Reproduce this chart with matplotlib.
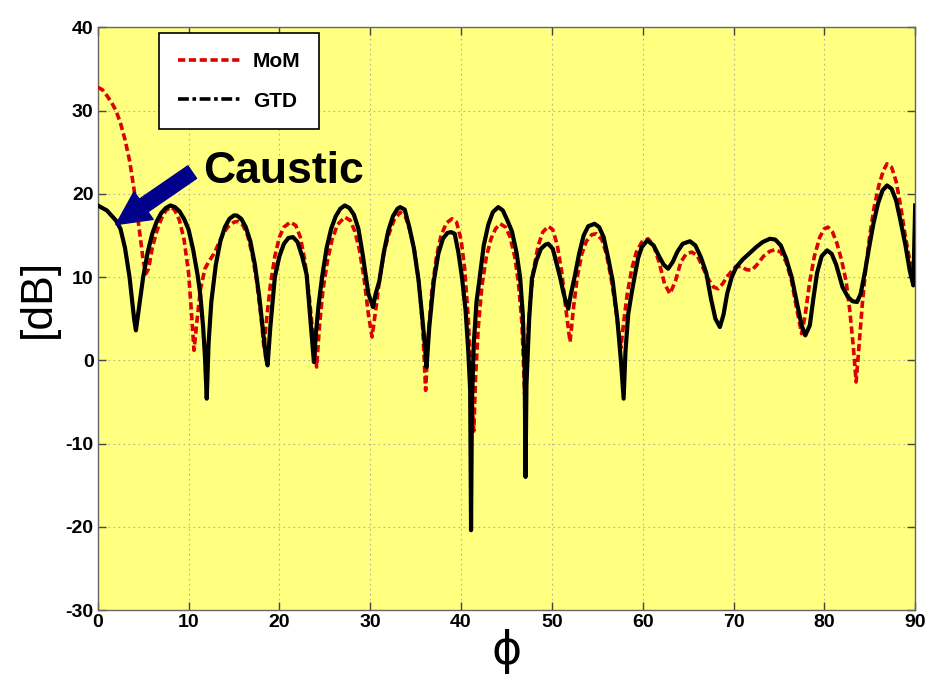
import matplotlib
matplotlib.use("Agg")
import matplotlib.pyplot as plt
from matplotlib.lines import Line2D

plt.rcParams["axes.unicode_minus"] = False

# ---------------- data ----------------
gtd_phi = [0.0, 1.0, 2.0, 2.5, 3.0, 3.5, 3.8, 4.0, 4.2,
           4.5, 5.0, 5.5, 6.0, 6.5, 7.0, 7.5, 8.0, 8.5, 9.0, 9.5, 10.0, 10.5, 11.0, 11.3, 11.6, 11.8, 12.0,
           12.2, 12.5, 13.0, 13.5, 14.0, 14.5, 15.0, 15.3, 15.8, 16.3, 16.8, 17.3, 17.8, 18.2, 18.5, 18.7,
           19.0, 19.5, 20.0, 20.5, 21.0, 21.5, 22.0, 22.5, 23.0, 23.4, 23.8,
           24.0, 24.3, 24.7, 25.2, 25.7, 26.2, 26.7, 27.2, 27.7, 28.2, 28.7, 29.2, 29.5, 29.8, 30.3,
           30.6, 31.0, 31.5, 32.0, 32.5, 33.0, 33.3, 33.8, 34.3, 34.8, 35.3, 35.7, 36.0, 36.2,
           36.5, 37.0, 37.5, 38.0, 38.5, 38.9, 39.3, 39.7, 40.1, 40.5, 40.8, 41.0, 41.1,
           41.2, 41.4, 41.7, 42.0, 42.5, 43.0, 43.5, 44.1, 44.6, 45.1, 45.6, 46.1, 46.5, 46.8, 47.0, 47.1,
           47.2, 47.5, 47.8, 48.3, 48.8, 49.3, 49.6, 50.1, 50.6, 50.9, 51.3, 51.6, 51.8,
           52.1, 52.5, 53.0, 53.5, 54.0, 54.7, 55.2, 55.7, 56.2, 56.7, 57.2, 57.6, 57.9,
           58.1, 58.4, 58.8, 59.1, 59.5, 59.9, 60.5, 61.2, 61.8, 62.3, 62.8, 63.3, 63.8, 64.4, 65.2,
           65.8, 66.4, 67.0, 67.5, 68.0, 68.5,
           68.9, 69.3, 69.8, 70.3, 71.0, 71.8, 72.5, 73.2, 74.0, 74.6, 75.2, 75.8, 76.4, 77.0, 77.5, 77.9,
           78.4, 78.8, 79.2, 79.7, 80.3, 80.8, 81.3, 82.0, 82.6, 83.1, 83.6, 84.0, 84.5, 85.0, 85.4,
           85.9, 86.4, 86.9, 87.4, 87.9, 88.3, 88.9, 89.4, 89.8, 90.0]
gtd_db = [18.6, 18.0, 16.8, 15.8, 13.5, 10.0, 7.0, 5.0, 3.6,
          6.0, 10.0, 13.0, 15.2, 16.7, 17.7, 18.3, 18.6, 18.4, 17.9, 17.0, 15.7, 13.3, 10.2, 7.8, 4.0, 0.5, -4.6,
          2.0, 7.0, 11.5, 14.3, 16.0, 17.0, 17.4, 17.4, 17.0, 16.0, 14.3, 11.5, 7.5, 3.5, 0.5, -0.6,
          4.0, 10.0, 12.5, 14.0, 14.7, 14.8, 14.2, 12.5, 10.3, 5.0, -0.2,
          3.0, 6.5, 10.0, 13.5, 15.8, 17.3, 18.2, 18.6, 18.3, 17.5, 15.8, 12.5, 10.2, 8.0, 6.4,
          8.0, 9.5, 13.0, 15.6, 17.3, 18.2, 18.4, 18.1, 16.0, 13.5, 9.8, 5.5, 2.0, -0.8,
          4.0, 9.5, 12.8, 14.6, 15.3, 15.4, 15.2, 13.0, 10.0, 6.0, 1.0, -3.5, -20.4,
          -5.0, 2.0, 7.0, 9.5, 13.8, 16.3, 17.8, 18.4, 18.0, 16.8, 15.5, 13.0, 10.0, 5.5, -1.0, -14.0,
          -3.0, 5.0, 9.8, 12.0, 13.4, 13.9, 14.0, 13.4, 11.3, 10.0, 8.0, 6.8, 6.2,
          8.0, 10.0, 12.8, 15.0, 16.1, 16.4, 16.0, 14.8, 12.3, 9.5, 5.0, 0.0, -4.6,
          1.0, 5.5, 8.2, 10.0, 12.3, 13.6, 14.4, 13.8, 12.5, 11.5, 11.0, 11.8, 13.0, 14.0, 14.3,
          13.8, 12.4, 10.5, 7.5, 5.0, 4.0,
          5.5, 8.0, 10.0, 11.2, 12.1, 12.9, 13.6, 14.2, 14.6, 14.5, 13.8, 12.2, 10.0, 6.8, 4.2, 3.0,
          4.2, 7.5, 10.5, 12.5, 13.2, 12.8, 11.5, 8.8, 7.6, 7.1, 7.0, 8.0, 10.8, 14.0, 16.4,
          18.8, 20.4, 21.0, 20.6, 19.2, 17.2, 14.0, 10.8, 9.0, 18.6]

mom_phi = [0.0, 0.5, 1.0, 1.5, 2.0, 2.5, 3.0, 3.5, 4.0, 4.3, 4.6, 5.0, 5.3, 5.6, 6.0, 6.5, 7.0, 7.5, 8.1,
           8.5, 9.0, 9.5, 10.0, 10.3, 10.6, 10.9, 11.3, 11.8, 12.3, 12.8, 13.3, 13.8, 14.3, 15.0, 15.5,
           16.0, 16.5, 17.0, 17.5, 18.0, 18.3, 18.6, 19.0, 19.5, 20.0, 20.5, 21.2, 21.8, 22.3, 22.8,
           23.3, 23.7, 24.1, 24.4, 24.8, 25.3, 25.8, 26.4, 27.2, 27.8, 28.3, 28.8, 29.3, 29.8, 30.2,
           30.6, 31.0, 31.5, 32.0, 32.6, 33.3, 33.9, 34.4, 34.9, 35.4, 35.8, 36.1, 36.4, 36.8, 37.3,
           37.8, 38.4, 39.0, 39.5, 40.0, 40.4, 40.8, 41.1, 41.4, 41.6, 41.9, 42.3, 42.8, 43.3, 43.8,
           44.3, 44.9, 45.4, 45.9, 46.3, 46.7, 47.0, 47.3, 47.6, 48.0, 48.5, 49.0, 49.6, 50.1, 50.6,
           51.1, 51.5, 52.0, 52.4, 52.8, 53.3, 53.8, 54.4, 54.9, 55.5, 56.0, 56.5, 57.0, 57.3, 57.6,
           57.9, 58.3, 58.8, 59.3, 59.9, 60.6, 61.2, 61.8, 62.4, 63.0, 63.6, 64.2, 64.8, 65.4, 66.0,
           66.6, 67.2, 67.8, 68.3, 68.8, 69.4, 70.2, 70.8, 71.4, 72.0, 72.6, 73.3, 74.0, 74.6, 75.2,
           75.8, 76.4, 76.9, 77.5, 77.9, 78.4, 78.9, 79.5, 80.0, 80.4, 80.9, 81.4, 81.9, 82.4, 82.8,
           83.2, 83.5, 83.8, 84.2, 84.6, 85.0, 85.5, 86.0, 86.5, 86.9, 87.4, 87.9, 88.4, 88.9, 89.4, 90.0]
mom_db = [32.8, 32.5, 31.8, 31.0, 30.0, 28.5, 26.5, 24.0, 20.5, 18.0, 15.5, 12.0, 10.4, 11.0, 13.5, 15.5, 17.0, 18.0, 18.4,
          18.0, 16.8, 14.5, 10.5, 6.0, 1.2, 4.5, 8.5, 11.0, 12.0, 12.8, 14.0, 15.2, 16.0, 16.6, 16.7,
          16.2, 15.0, 12.8, 9.5, 5.0, 1.5, 5.0, 9.0, 12.5, 14.8, 16.0, 16.6, 16.2, 14.8, 12.0,
          7.5, 3.0, -0.8, 4.0, 8.5, 12.0, 14.5, 16.3, 17.2, 16.8, 15.5, 13.3, 10.0, 5.5, 2.8,
          6.0, 9.5, 12.8, 15.0, 16.8, 17.8, 17.2, 15.5, 13.0, 9.0, 3.5, -3.6, 3.0, 8.5, 12.5,
          15.0, 16.5, 17.0, 16.6, 14.5, 11.0, 5.0, -2.0, -8.5, -2.0, 4.0, 9.0, 12.5, 14.6, 15.8,
          16.4, 16.0, 14.8, 12.5, 9.5, 4.5, -4.0, 2.0, 7.0, 11.0, 13.8, 15.4, 16.1, 15.7, 13.8,
          10.5, 6.5, 2.2, 6.5, 10.0, 12.8, 14.3, 15.1, 15.2, 14.5, 12.8, 10.0, 6.5, 4.0, 1.5,
          4.5, 8.0, 11.0, 13.0, 14.2, 14.6, 13.8, 11.8, 9.2, 8.0, 9.5, 11.8, 12.8, 13.0, 12.6,
          11.2, 9.8, 8.8, 8.6, 9.2, 10.2, 11.2, 11.3, 10.9, 10.8, 11.5, 12.5, 13.1, 13.3, 13.0,
          11.8, 9.5, 6.5, 3.2, 5.5, 9.5, 12.5, 14.8, 15.8, 16.0, 15.4, 14.0, 12.0, 9.5, 6.0,
          1.5, -2.6, 1.5, 7.0, 11.5, 15.0, 18.5, 21.0, 22.8, 23.6, 23.2, 21.5, 18.5, 15.0, 12.0, 10.0]

x_ticks = [0, 10, 20, 30, 40, 50, 60, 70, 80, 90]
y_ticks = [-30, -20, -10, 0, 10, 20, 30, 40]
series_labels = ["MoM", "GTD"]

# ---------------- figure ----------------
fig = plt.figure(figsize=(9.31, 6.81), dpi=100)
ax = fig.add_axes([0.105, 0.104, 0.878, 0.856])
ax.set_facecolor("#FFFF80")

red = "#DD0000"
ax.plot(mom_phi, mom_db, color=red, lw=2.6, linestyle=(0, (2.0, 1.0)), zorder=3)
ax.plot(gtd_phi, gtd_db, color="black", lw=3.0, linestyle="-", zorder=4)

ax.set_xlim(0, 90)
ax.set_ylim(-30, 40)
ax.set_xticks(x_ticks)
ax.set_yticks(y_ticks)
ax.grid(True, color="#b4b49a", linestyle=(0, (1.5, 3.0)), lw=0.8)
ax.tick_params(direction="in", top=True, right=True, length=6, width=1, colors="#444444",
               labelcolor="black", pad=3)
for lab in ax.get_xticklabels() + ax.get_yticklabels():
    lab.set_fontfamily("Liberation Sans")
    lab.set_fontweight("bold")
    lab.set_fontsize(14)
for s in ax.spines.values():
    s.set_color("#666666")
    s.set_linewidth(1.0)

ax.set_ylabel("[dB]", fontsize=32, family="Liberation Sans")
ax.yaxis.set_label_coords(-0.047, 0.535)
ax.set_xlabel("\u03d5", fontsize=33, family="DejaVu Sans", labelpad=-2)

handles = [Line2D([], [], color=red, lw=2.6, linestyle=(0, (2.0, 1.0))),
           Line2D([], [], color="black", lw=2.6, linestyle=(0, (3, 1, 1, 1)))]
leg = ax.legend(handles, series_labels, loc="upper left", bbox_to_anchor=(0.075, 0.99),
                prop={"family": "Liberation Sans", "weight": "bold", "size": 15},
                handlelength=3.0, labelspacing=1.0, borderpad=0.9, handletextpad=0.6,
                fancybox=False, framealpha=1, edgecolor="black", borderaxespad=0.0)
leg.get_frame().set_linewidth(1.2)

ax.annotate("", xy=(2.0, 16.3), xytext=(10.4, 22.6),
            arrowprops=dict(arrowstyle="simple,head_width=1.1,head_length=1.1,tail_width=0.5",
                            color="#00008B", mutation_scale=22, shrinkA=0, shrinkB=0), zorder=6)
ax.text(11.6, 22.7, "Caustic", fontsize=32, fontweight="bold", family="Liberation Sans",
        va="center", ha="left", zorder=6)

fig.savefig("out.png", dpi=100)
